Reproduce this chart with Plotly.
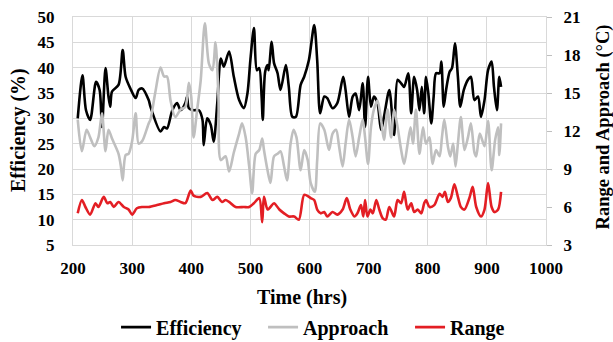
import plotly.graph_objects as go

# ---- data ----
time_eff = [208,216,222,229,239,245,249,255,260,263,266,277,284,289,297,306,311,317,328,331,348,354,359,368,376,382,390,393,396,404,413,419,421,427,433,438,444,450,455,464,472,481,489,495,500,506,511,515,519,521,525,529,531,536,540,546,551,560,565,571,577,585,591,599,608,613,618,625,630,639,647,657,661,667,673,678,684,690,694,699,704,709,715,721,726,735,743,749,755,760,767,772,777,782,786,790,794,797,801,806,810,814,820,823,827,831,837,841,846,851,855,861,868,873,879,885,890,896,902,908,912,917,921,924]
efficiency = [30,38.5,31.6,29.7,37.2,35.6,28.3,39.9,34.3,32.3,35.3,36.6,43.5,38.2,35.9,34,35.6,35.9,33.6,32.3,27.4,28.3,28,31.6,33,31.6,33,34.3,32,31.6,31.6,29.7,24.7,30,28.7,25.4,33,41.8,40.2,43.2,38.2,33.6,32,34.9,41.5,47.8,39.5,39.9,34.3,29.7,39.2,40.5,39.5,45.1,40.9,38.9,35.6,40.5,36.2,30.3,30.3,36.6,38.2,41.5,48.4,41.5,31,34.3,34,32,33,38.2,35.6,30.3,34.3,34.9,31.6,36.9,28.3,38.2,32.3,34.3,33,27.7,30.3,35.6,26.7,37.6,36.9,36.2,38.9,31,38.2,35.6,31.6,36.2,31,38.2,34.9,29,34.3,38.9,38.9,41.2,32.3,35.6,39.2,39.9,44.8,38.2,32.3,35.6,37.6,38.2,33.6,34.3,30.3,33.6,39.5,41.2,36.2,31.6,38.2,36.2]

time_app = [208,215,223,229,236,243,249,255,260,266,277,281,284,289,294,300,306,311,317,328,331,339,348,354,359,365,373,382,390,396,400,404,410,416,423,430,436,441,446,450,458,464,472,481,486,492,498,503,509,515,520,523,529,534,540,546,551,557,562,568,573,578,585,591,597,602,609,613,618,625,633,639,645,650,656,661,667,673,678,684,690,694,699,704,709,715,721,726,732,738,743,749,755,760,766,771,775,780,786,792,797,803,808,814,820,824,828,834,838,843,847,851,856,862,868,873,879,882,888,896,902,908,914,919,921,924]
approach = [12.9,10.4,12.1,11.5,10.8,11.5,13.4,10.4,12.1,11.4,10.2,9.2,8.1,10.1,10.2,11.2,13.4,11,11.2,12.6,12.9,15,17,16.3,16.3,14.4,13.1,13.7,13.9,15.8,14.7,11.5,13.7,16,20.5,17.3,16.8,19,14.7,9.7,10,8.8,10.3,11.8,12.6,11.5,9.2,7.1,10.2,10.5,11.4,10.5,8.9,7.9,10,10.2,10.4,9.2,8.1,11,12.1,11.5,8.9,10.5,9.7,7.9,7.2,9.7,12.6,12.1,10.5,11.8,12.1,10.8,9.2,11,12.9,11.5,10,11.5,12.9,11.5,9.4,12.3,13.7,14.4,12.9,11.3,13.7,11.5,13.7,12.3,10.5,9.4,11,12.3,11,13.7,10.2,12.3,11,11.5,9.4,10.5,10,11.5,12.9,10.8,10,11,9.2,11,13.1,10.5,11.5,12.6,10.3,10,11.8,10.8,12.8,8.9,11.3,12.3,10.1,12.6]

time_rng = [208,215,221,229,238,243,252,258,263,269,277,286,294,300,308,317,328,342,354,365,373,382,390,399,404,416,427,436,444,452,458,464,475,489,498,506,515,520,523,529,534,540,549,557,565,574,582,591,599,602,608,613,619,625,630,639,647,656,663,669,676,681,687,691,694,698,703,707,713,718,724,729,735,743,749,755,760,766,772,777,783,789,794,797,803,811,820,825,829,834,839,845,851,856,862,871,876,882,890,896,902,908,913,919,924]
range_c = [5.5,6.55,6.0,5.4,6.3,6.0,6.8,6.3,6.4,6.0,6.4,6.0,5.8,5.4,5.9,6.0,6.0,6.15,6.3,6.4,6.55,6.4,6.3,7.3,6.9,6.8,7.1,6.55,6.8,6.4,6.55,6.4,6.0,6.0,6.0,6.3,6.7,4.8,6.8,5.8,6.0,6.3,5.8,5.5,5.25,5.25,5.0,6.95,6.8,6.7,6.55,5.8,5.5,5.6,5.25,5.6,5.4,5.8,6.7,5.8,5.25,5.5,6.15,5.25,6.55,5.25,5.8,5.5,6.55,5.8,5.1,5.0,6.0,5.25,6.55,6.3,7.2,5.8,6.3,5.6,5.8,5.5,6.3,6.55,6.0,6.15,7.05,6.8,7.2,6.4,6.7,7.8,6.8,6.0,5.8,6.8,7.6,6.0,5.25,5.8,7.9,6.0,5.6,5.8,7.2]

x_ticks = [200, 300, 400, 500, 600, 700, 800, 900, 1000]
eff_ticks = [5, 10, 15, 20, 25, 30, 35, 40, 45, 50]
temp_ticks = [3, 6, 9, 12, 15, 18, 21]

FONT = "Liberation Serif, Times New Roman, Times, serif"
GRID = "#d9d9d9"

fig = go.Figure()
fig.add_trace(go.Scatter(x=time_eff, y=efficiency, name="Efficiency", mode="lines",
                         line=dict(color="#000000", width=2.6, shape="spline", smoothing=0.8)))
fig.add_trace(go.Scatter(x=time_app, y=approach, name="Approach", mode="lines", yaxis="y2",
                         line=dict(color="#bfbfbf", width=2.6, shape="spline", smoothing=0.8)))
fig.add_trace(go.Scatter(x=time_rng, y=range_c, name="Range", mode="lines", yaxis="y2",
                         line=dict(color="#e31e24", width=2.6, shape="spline", smoothing=0.8)))

tickfont = dict(family=FONT, size=17, color="#000000", weight="bold")
titlefont = dict(family=FONT, size=20, color="#000000", weight="bold")

fig.update_layout(
    width=613, height=342,
    margin=dict(l=73, r=67, t=17, b=97, autoexpand=False),
    paper_bgcolor="white", plot_bgcolor="white",
    showlegend=True,
    legend=dict(orientation="h", x=0.091, xanchor="left", y=-0.36, yanchor="middle",
                font=dict(family=FONT, size=20, color="#000000", weight="bold"),
                entrywidth=102, entrywidthmode="pixels",
                itemwidth=30, tracegroupgap=0, bgcolor="rgba(0,0,0,0)"),
    xaxis=dict(range=[200, 1000], tickvals=x_ticks, ticktext=[str(v) for v in x_ticks],
               showgrid=True, gridcolor=GRID, gridwidth=1, zeroline=False,
               showline=True, linecolor=GRID, linewidth=1, mirror=True, automargin=False,
               ticks="", tickfont=tickfont, ticklabelstandoff=8),
    yaxis=dict(range=[5, 50], tickvals=eff_ticks, ticktext=[str(v) for v in eff_ticks],
               showgrid=True, gridcolor=GRID, gridwidth=1, zeroline=False,
               showline=True, linecolor=GRID, linewidth=1, mirror=True, automargin=False,
               ticks="", tickfont=tickfont, ticklabelstandoff=14),
    yaxis2=dict(range=[3, 21], tickvals=temp_ticks, ticktext=[str(v) for v in temp_ticks],
                overlaying="y", side="right", showgrid=False, zeroline=False, automargin=False,
                showline=False, ticks="outside", ticklen=5, tickcolor="#bfbfbf", tickwidth=1,
                tickfont=tickfont, ticklabelstandoff=8),
    annotations=[
        dict(text="Efficiency (%)", xref="paper", yref="paper", x=-0.1163, y=0.504,
             textangle=-90, showarrow=False, xanchor="center", yanchor="middle",
             font=titlefont),
        dict(text="Range and Approach (°C)", xref="paper", yref="paper", x=1.1205, y=0.52,
             textangle=-90, showarrow=False, xanchor="center", yanchor="middle",
             font=dict(family=FONT, size=18.5, color="#000000", weight="bold")),
        dict(text="Time (hrs)", xref="paper", yref="paper", x=0.485, y=-0.232,
             showarrow=False, xanchor="center", yanchor="middle",
             font=titlefont),
    ],
)

fig.write_html("out.html", config={"displayModeBar": False},
               post_script="document.body.style.margin='0px';")
